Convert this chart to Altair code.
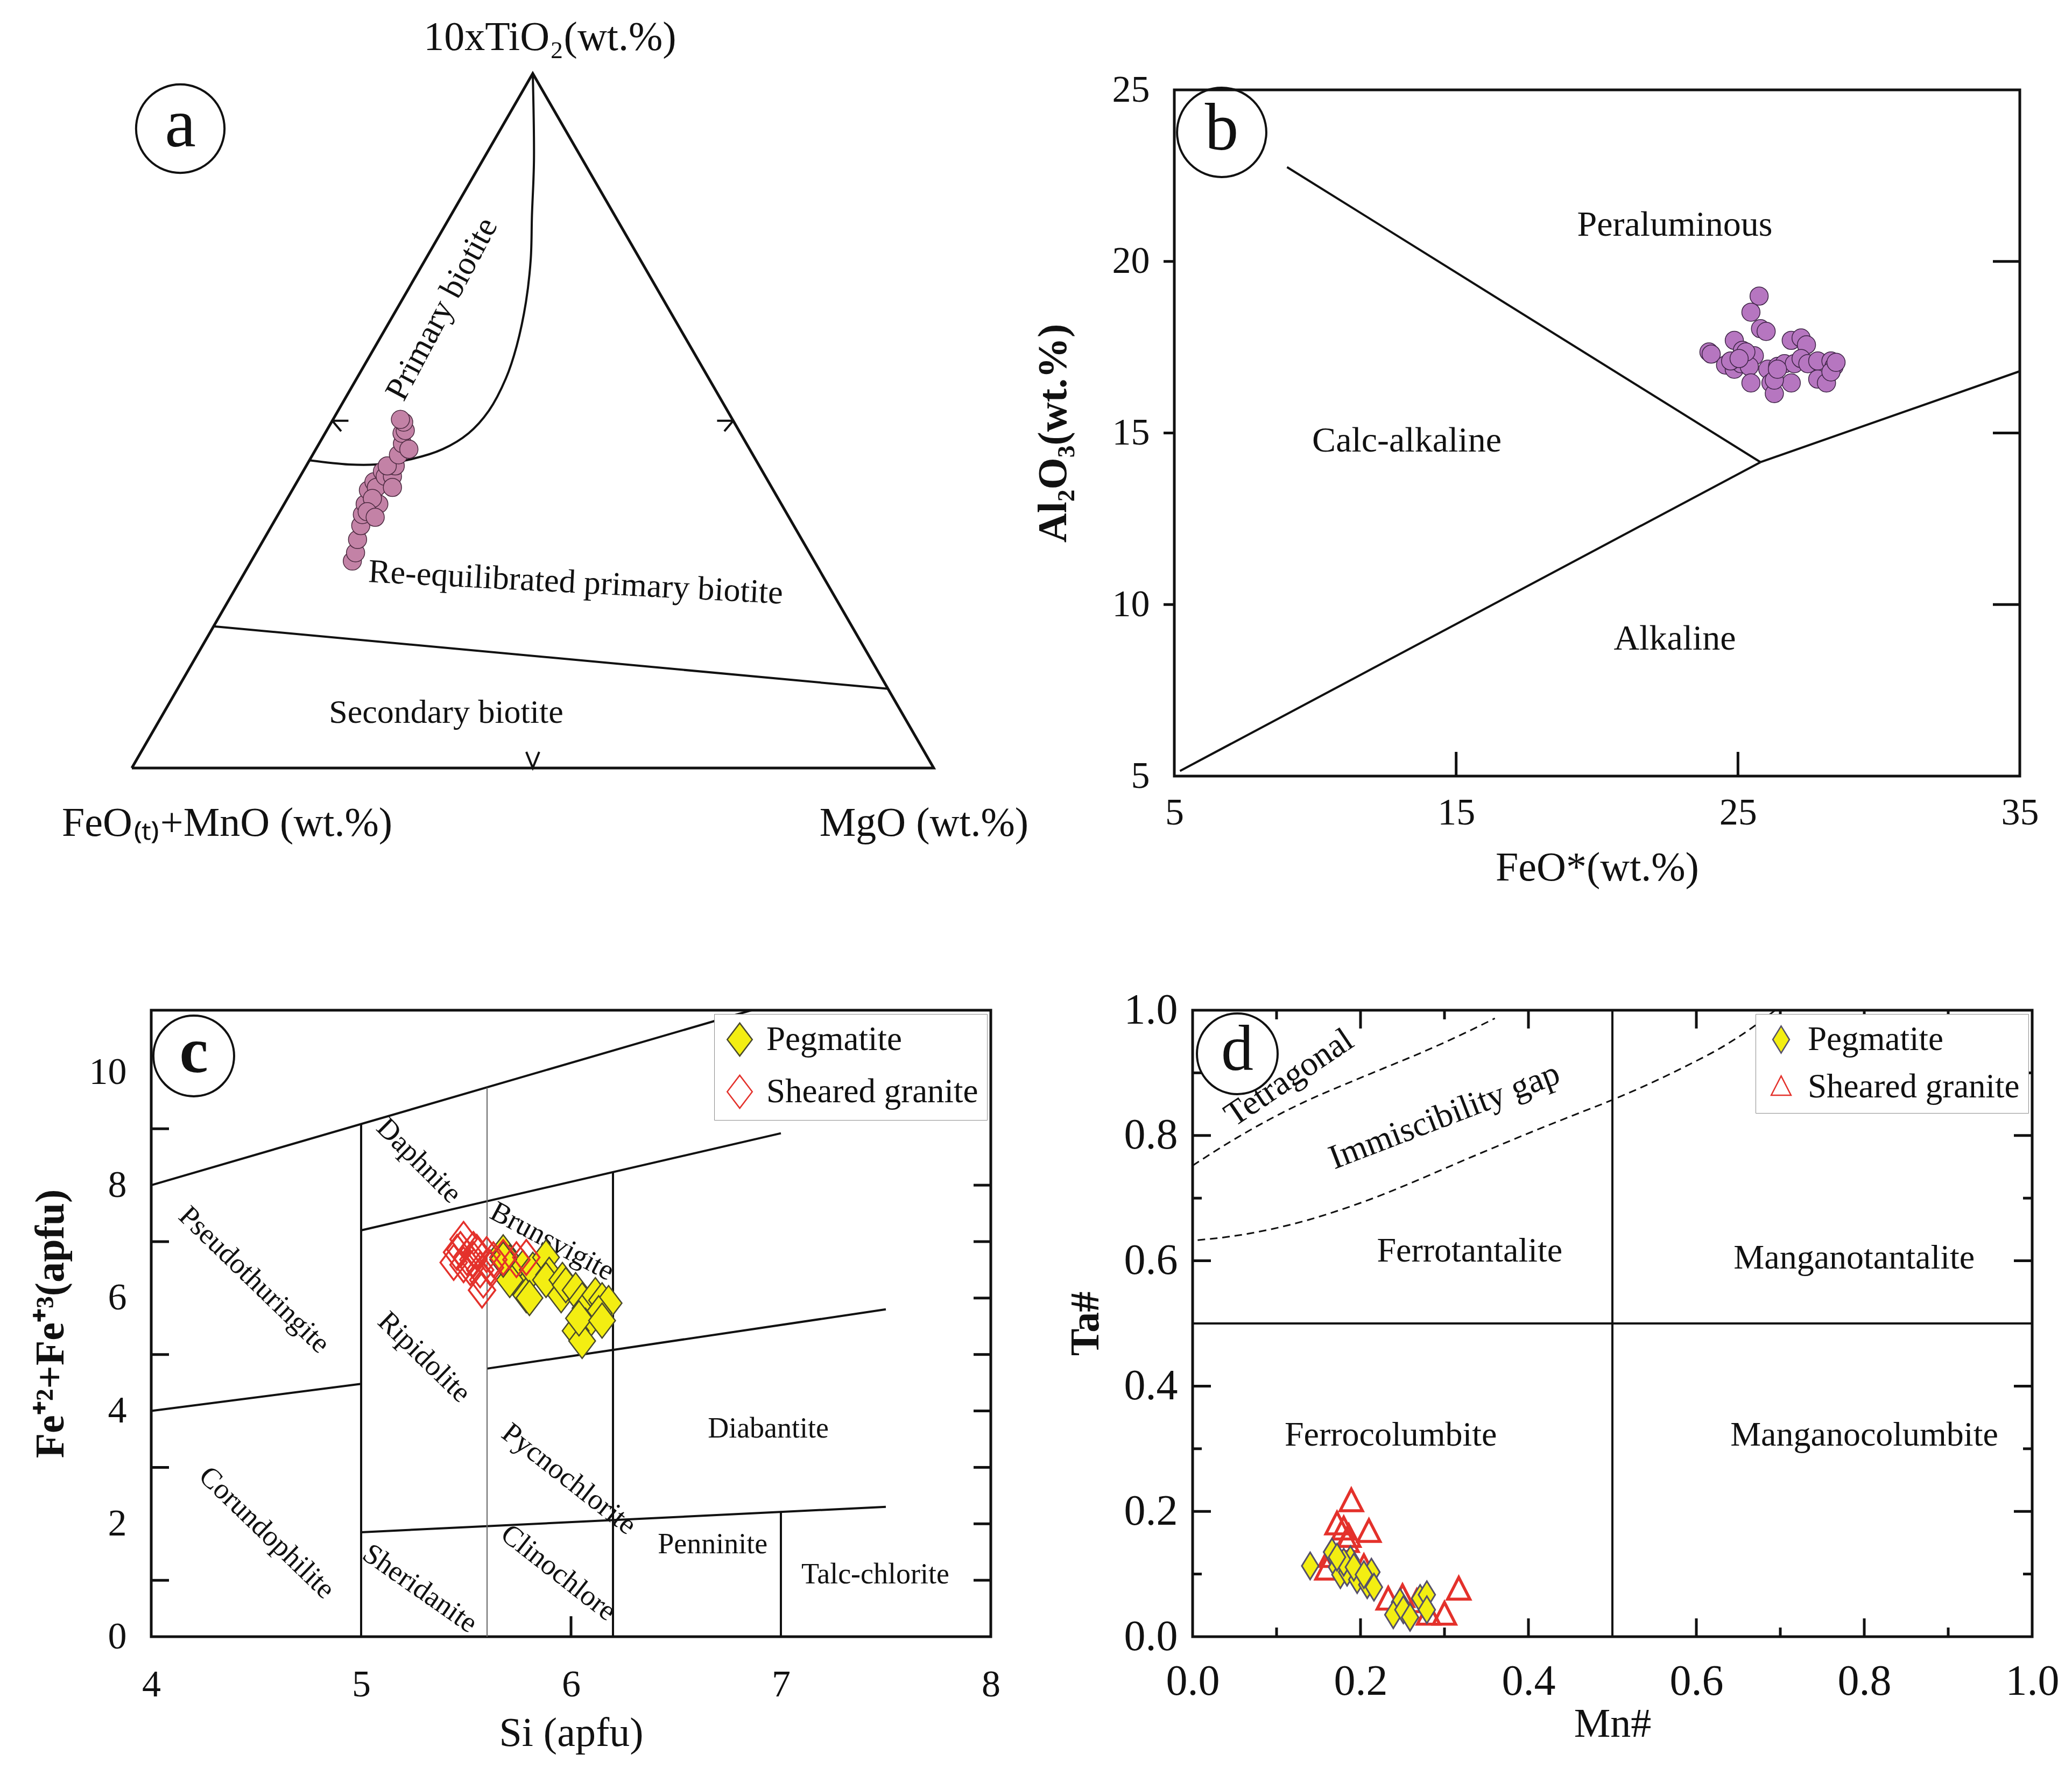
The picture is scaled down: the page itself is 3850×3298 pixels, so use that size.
import altair as alt
import pandas as pd

FONT = "Liberation Serif"
INK = "#111111"
S3 = 0.8660254

# ---------------- (a) ternary 10xTiO2 / FeO(t)+MnO / MgO (wt.% normalised) ----------------
a_tio2 = [29.8, 31.0, 32.9, 34.9, 36.5, 38.0, 40.0, 41.2, 38.0, 40.4, 42.7, 42.0, 42.0,
          43.5, 43.5, 45.1, 46.7, 48.2, 48.6, 49.8, 50.2, 45.9, 40.4, 38.8, 36.9, 36.1]
a_mgo = [12.6, 12.4, 11.7, 11.1, 10.5, 10.1, 9.5, 9.6, 11.8, 10.3, 9.9, 10.6, 11.5,
         11.1, 10.1, 10.7, 10.4, 9.6, 9.8, 9.0, 8.4, 11.6, 12.3, 10.6, 10.9, 12.3]
prim_tio2 = [44.3, 43.7, 43.7, 44.5, 45.9, 48.2, 51.4, 56.1, 60.8, 67.1, 73.3, 79.6, 87.5, 100.0]
prim_mgo = [0.0, 5.2, 8.6, 12.7, 15.8, 17.9, 18.8, 18.6, 17.6, 15.6, 13.1, 10.1, 6.4, 0.0]
sec_tio2 = [20.4, 11.4]
sec_mgo = [0.0, 88.6]
tri_tio2 = [0, 0, 100, 0]
tri_mgo = [0, 100, 0, 0]
a_lab_text = ["Primary biotite", "Re-equilibrated primary biotite", "Secondary biotite"]
a_lab_tio2 = [66.1, 26.7, 8.0]
a_lab_mgo = [5.6, 42.0, 35.2]
a_lab_angle = [298, 3, 0]

# ---------------- (b) FeO* vs Al2O3 ----------------
b_feo = [25.75, 25.46, 25.8, 26.0, 23.97, 24.05, 24.87, 25.16, 25.58, 24.56, 24.87, 25.11, 25.4,
         25.46, 26.06, 26.17, 26.29, 26.41, 26.65, 26.89, 27.24, 27.43, 27.0, 26.89, 27.24, 27.48,
         27.83, 27.83, 28.14, 28.3, 28.41, 28.3, 28.48, 26.29, 26.4, 24.74, 25.28, 25.04]
b_al2o3 = [18.99, 18.52, 18.04, 17.96, 17.36, 17.3, 17.7, 17.41, 17.25, 16.98, 16.86, 17.02, 16.94,
           16.46, 16.86, 16.46, 16.15, 16.94, 17.02, 17.7, 17.77, 17.57, 17.02, 16.46, 17.17, 17.02,
           17.1, 16.57, 16.46, 17.1, 16.94, 16.78, 17.06, 16.54, 16.86, 17.1, 17.36, 17.17]
b_seg_x1 = [9.0, 5.2, 25.8]
b_seg_y1 = [22.75, 5.15, 14.15]
b_seg_x2 = [25.8, 25.8, 35.0]
b_seg_y2 = [14.15, 14.15, 16.8]
b_lab_text = ["Peraluminous", "Calc-alkaline", "Alkaline"]
b_lab_x = [22.76, 13.25, 22.76]
b_lab_y = [21.06, 14.77, 9.0]

# ---------------- (c) Si vs Fe2+ + Fe3+ (chlorite) ----------------
c_peg_si = [5.677, 5.708, 5.771, 5.771, 5.787, 5.818, 5.881, 5.896, 5.881, 5.959, 5.953, 5.975, 6.022,
            6.053, 6.069, 6.116, 6.148, 6.179, 6.132, 6.069, 6.022, 6.053, 6.038, 6.148, 5.708, 5.802, 5.677]
c_peg_fe = [6.81, 6.63, 6.54, 6.14, 6.05, 6.50, 6.72, 6.41, 6.32, 6.32, 6.05, 6.23, 6.14,
            5.96, 5.82, 6.05, 5.96, 5.91, 5.73, 5.51, 5.42, 5.24, 5.64, 5.60, 6.32, 6.00, 6.68]
c_sg_si = [5.488, 5.473, 5.441, 5.504, 5.535, 5.551, 5.520, 5.567, 5.582, 5.576, 5.614, 5.630, 5.677,
           5.740, 5.787, 5.457, 5.535, 5.488, 5.598]
c_sg_fe = [7.04, 6.86, 6.63, 6.72, 6.68, 6.81, 6.54, 6.50, 6.32, 6.14, 6.54, 6.68, 6.72,
           6.68, 6.72, 6.81, 6.86, 6.59, 6.77]
c_seg_x1 = [4.0, 5.0, 4.0, 5.6, 5.0, 5.0, 6.2, 7.0]
c_seg_y1 = [8.0, 7.2, 4.0, 4.75, 1.85, 0.0, 0.0, 0.0]
c_seg_x2 = [6.86, 7.0, 5.0, 7.5, 7.5, 5.0, 6.2, 7.0]
c_seg_y2 = [11.1, 8.92, 4.48, 5.8, 2.3, 9.08, 8.23, 2.21]
c_thin_x = [5.6]
c_thin_top = [9.73]
c_lab_text = ["Daphnite", "Brunsvigite", "Pseudothuringite", "Ripidolite", "Pycnochlorite", "Diabantite",
              "Corundophilite", "Sheridanite", "Clinochlore", "Penninite", "Talc-chlorite"]
c_lab_x = [5.275, 5.91, 4.49, 5.30, 5.99, 6.94, 4.55, 5.28, 5.94, 6.675, 7.45]
c_lab_y = [8.43, 7.0, 6.32, 4.95, 2.79, 3.68, 1.84, 0.85, 1.13, 1.63, 1.10]
c_lab_angle = [45, 28, 44, 44, 38, 0, 44, 35, 38, 0, 0]

# ---------------- (d) Mn# vs Ta# (columbite-tantalite) ----------------
d_peg_mn = [0.140, 0.166, 0.172, 0.176, 0.184, 0.188, 0.196, 0.180, 0.192, 0.208, 0.213, 0.216, 0.247,
            0.239, 0.251, 0.259, 0.271, 0.279, 0.279, 0.204, 0.172]
d_peg_ta = [0.113, 0.135, 0.111, 0.099, 0.103, 0.123, 0.091, 0.119, 0.111, 0.083, 0.103, 0.079, 0.055,
            0.035, 0.043, 0.031, 0.061, 0.067, 0.043, 0.099, 0.127]
d_sg_mn = [0.189, 0.172, 0.180, 0.186, 0.184, 0.210, 0.160, 0.164, 0.204, 0.233, 0.250, 0.281, 0.300,
           0.317, 0.267]
d_sg_ta = [0.216, 0.179, 0.171, 0.159, 0.151, 0.167, 0.107, 0.127, 0.111, 0.059, 0.063, 0.035, 0.035,
           0.075, 0.055]
tet_mn = [0.0, 0.046, 0.092, 0.137, 0.182, 0.227, 0.272, 0.317, 0.360]
tet_ta = [0.752, 0.791, 0.826, 0.856, 0.882, 0.907, 0.932, 0.959, 0.987]
imm_mn = [0.006, 0.046, 0.092, 0.137, 0.182, 0.227, 0.272, 0.317, 0.363, 0.408, 0.453, 0.502, 0.543,
          0.588, 0.633, 0.662, 0.694]
imm_ta = [0.633, 0.639, 0.650, 0.665, 0.684, 0.706, 0.731, 0.757, 0.783, 0.808, 0.832, 0.858, 0.882,
          0.911, 0.943, 0.968, 1.0]
d_seg_x1 = [0.5, 0.0]
d_seg_y1 = [0.0, 0.5]
d_seg_x2 = [0.5, 1.0]
d_seg_y2 = [1.0, 0.5]
d_lab_text = ["Tetragonal", "Immiscibility gap", "Ferrotantalite", "Manganotantalite",
              "Ferrocolumbite", "Manganocolumbite"]
d_lab_x = [0.115, 0.30, 0.33, 0.788, 0.236, 0.80]
d_lab_y = [0.892, 0.831, 0.615, 0.604, 0.321, 0.321]
d_lab_angle = [326, 339, 0, 0, 0, 0]

SERIES = ["Pegmatite", "Sheared granite"]

# ---------------- style ----------------
YEL = "#f3ee12"
YEL_EDGE = "#4a4a2e"
RED = "#e4312b"
DIAM_C = "M0,-1.25L0.95,0L0,1.25L-0.95,0Z"
DIAM_D = "M0,-1.3L0.8,0L0,1.3L-0.8,0Z"
TRI = "M0,-1.05L0.95,0.8L-0.95,0.8Z"

W_A, H_A = 1560, 1275
W_B, H_B = 1571, 1275
W_C, H_C = 1560, 1164
W_D, H_D = 1560, 1164
ROW_GAP = 435
TICK_FS = 70
TITLE_FS = 76


def seg_df(x1, y1, x2, y2):
    return pd.DataFrame({"x": x1, "y": y1, "x2": x2, "y2": y2})


def tick_df(vals, side, length, xdom, ydom, w, h):
    dx = length * (xdom[1] - xdom[0]) / w
    dy = length * (ydom[1] - ydom[0]) / h
    rows = []
    for v in vals:
        if side == "left":
            rows.append((xdom[0], v, xdom[0] + dx, v))
        elif side == "right":
            rows.append((xdom[1], v, xdom[1] - dx, v))
        elif side == "bottom":
            rows.append((v, ydom[0], v, ydom[0] + dy))
        else:
            rows.append((v, ydom[1], v, ydom[1] - dy))
    return pd.DataFrame(rows, columns=["x", "y", "x2", "y2"])


def axis(values, title, lfs, lpad, tpad, bold, fmt=None):
    kw = dict(values=values, title=title, labelFont=FONT, titleFont=FONT, labelFontSize=lfs,
              titleFontSize=TITLE_FS, labelPadding=lpad, titlePadding=tpad, labelColor=INK,
              titleColor=INK, titleFontWeight="bold" if bold else "normal", ticks=False,
              domain=False, grid=False, labelFlush=False)
    if fmt:
        kw["format"] = fmt
    return alt.Axis(**kw)


def panel_letter(letter, px, py, size, weight="normal", fsize=120):
    one = pd.DataFrame({"k": [0]})
    circ = alt.Chart(one).mark_point(shape="circle", size=size, filled=False, stroke=INK,
                                     strokeWidth=4, opacity=1).encode(x=alt.value(px), y=alt.value(py))
    txt = alt.Chart(one).mark_text(text=letter, font=FONT, fontSize=fsize, fontWeight=weight,
                                   color=INK, align="center", baseline="middle", dy=-6).encode(
        x=alt.value(px), y=alt.value(py))
    return [circ, txt]


# ======================= panel a =======================
AXS = alt.Scale(domain=[0.0242, 1.0712], nice=False, zero=False)
AYS = alt.Scale(domain=[-0.0101, 0.8456], nice=False, zero=False)


def tern(ch):
    return ch.transform_calculate(tx="(datum.mg + datum.ti / 2) / 100",
                                  ty="datum.ti / 100 * " + str(S3))


def axy():
    return dict(x=alt.X("tx:Q", scale=AXS, axis=None), y=alt.Y("ty:Q", scale=AYS, axis=None))


tri_df = pd.DataFrame({"ti": tri_tio2, "mg": tri_mgo, "o": list(range(len(tri_tio2)))})
prim_df = pd.DataFrame({"ti": prim_tio2, "mg": prim_mgo, "o": list(range(len(prim_tio2)))})
sec_df = pd.DataFrame({"ti": sec_tio2, "mg": sec_mgo, "o": [0, 1]})
a_df = pd.DataFrame({"ti": a_tio2, "mg": a_mgo})
a_lab_df = pd.DataFrame({"ti": a_lab_tio2, "mg": a_lab_mgo, "text": a_lab_text, "angle": a_lab_angle})

a_layers = [
    tern(alt.Chart(tri_df)).mark_line(color=INK, strokeWidth=5, strokeJoin="miter").encode(**axy(), order="o:Q"),
    tern(alt.Chart(prim_df)).mark_line(color=INK, strokeWidth=4, interpolate="catmull-rom").encode(**axy(), order="o:Q"),
    tern(alt.Chart(sec_df)).mark_line(color=INK, strokeWidth=4).encode(**axy(), order="o:Q"),
    tern(alt.Chart(pd.DataFrame({"ti": [50], "mg": [0]}))).mark_point(
        shape="M0,0L1,0M0,0L0.55,0.65", size=3600, filled=False, stroke=INK, strokeWidth=4, opacity=1).encode(**axy()),
    tern(alt.Chart(pd.DataFrame({"ti": [50], "mg": [50]}))).mark_point(
        shape="M0,0L-1,0M0,0L-0.55,0.65", size=3600, filled=False, stroke=INK, strokeWidth=4, opacity=1).encode(**axy()),
    tern(alt.Chart(pd.DataFrame({"ti": [0], "mg": [50]}))).mark_point(
        shape="M-0.4,-1L0,0L0.4,-1", size=3600, filled=False, stroke=INK, strokeWidth=4, opacity=1).encode(**axy()),
    tern(alt.Chart(a_df)).mark_point(shape="circle", size=1150, filled=True, fill="#c382a6", stroke="#4c2a40",
                                     strokeWidth=1.5, opacity=1).encode(**axy()),
    tern(alt.Chart(a_lab_df)).mark_text(font=FONT, fontSize=62, color=INK, align="center", baseline="middle").encode(
        **axy(), text="text:N", angle=alt.Angle("angle:Q", scale=None)),
    tern(alt.Chart(pd.DataFrame({"ti": [100], "mg": [0]}))).mark_text(
        text="10xTiO₂(wt.%)", font=FONT, fontSize=76, color=INK, align="center", baseline="middle",
        dx=32, dy=-67).encode(**axy()),
    tern(alt.Chart(pd.DataFrame({"ti": [0], "mg": [0]}))).mark_text(
        text="FeO₍ₜ₎+MnO (wt.%)", font=FONT, fontSize=76, color=INK, align="center", baseline="middle",
        dx=177, dy=103).encode(**axy()),
    tern(alt.Chart(pd.DataFrame({"ti": [0], "mg": [100]}))).mark_text(
        text="MgO (wt.%)", font=FONT, fontSize=76, color=INK, align="center", baseline="middle",
        dx=-18, dy=103).encode(**axy()),
] + panel_letter("a", 54, 72, 27000, fsize=130)

panel_a = alt.layer(*a_layers).properties(
    width=W_A, height=H_A, view=alt.ViewBackground(stroke="transparent", strokeWidth=0))

# ======================= panel b =======================
BXD, BYD = [5, 35], [5, 25]
BXS = alt.Scale(domain=BXD, nice=False, zero=False)
BYS = alt.Scale(domain=BYD, nice=False, zero=False)
BXA = axis([5, 15, 25, 35], "FeO*(wt.%)", TICK_FS, 34, 30, False)
BYA = axis([5, 10, 15, 20, 25], "Al₂O₃(wt.%)", TICK_FS, 46, 70, True)


def bxy(xf="x", yf="y"):
    return dict(x=alt.X(xf + ":Q", scale=BXS, axis=BXA), y=alt.Y(yf + ":Q", scale=BYS, axis=BYA))


b_ticks = pd.concat([
    tick_df([10, 15, 20], "left", -20, BXD, BYD, W_B, H_B),
    tick_df([10, 15, 20], "right", 50, BXD, BYD, W_B, H_B),
    tick_df([15, 25], "bottom", 45, BXD, BYD, W_B, H_B),
])
b_layers = [
    alt.Chart(seg_df(b_seg_x1, b_seg_y1, b_seg_x2, b_seg_y2)).mark_rule(color=INK, strokeWidth=4).encode(
        **bxy(), x2="x2:Q", y2="y2:Q"),
    alt.Chart(b_ticks).mark_rule(color=INK, strokeWidth=5).encode(**bxy(), x2="x2:Q", y2="y2:Q"),
    alt.Chart(pd.DataFrame({"x": b_feo, "y": b_al2o3})).mark_point(
        shape="circle", size=1150, filled=True, fill="#b676c0", stroke="#3e2446", strokeWidth=1.5,
        opacity=1).encode(**bxy()),
    alt.Chart(pd.DataFrame({"x": b_lab_x, "y": b_lab_y, "text": b_lab_text})).mark_text(
        font=FONT, fontSize=66, color=INK, align="center", baseline="middle").encode(**bxy(), text="text:N"),
] + panel_letter("b", 88, 79, 27500, fsize=125)

panel_b = alt.layer(*b_layers).properties(
    width=W_B, height=H_B, view=alt.ViewBackground(stroke=INK, strokeWidth=5))

# ======================= panel c =======================
CXD, CYD = [4, 8], [0, 11.1]
CXS = alt.Scale(domain=CXD, nice=False, zero=False)
CYS = alt.Scale(domain=CYD, nice=False, zero=False)
CXA = axis([4, 5, 6, 7, 8], "Si (apfu)", TICK_FS, 55, 18, False)
CYA = axis([0, 2, 4, 6, 8, 10], "Fe⁺²+Fe⁺³(apfu)", TICK_FS, 46, 32, True)


def cxy(xf="x", yf="y"):
    return dict(x=alt.X(xf + ":Q", scale=CXS, axis=CXA), y=alt.Y(yf + ":Q", scale=CYS, axis=CYA))


LEG = dict(title=None, orient="top-right", offset=7, fillColor="white", strokeColor="#8c8c8c",
           padding=16, labelFont=FONT, labelFontSize=63, labelColor=INK, symbolStrokeWidth=2.5,
           rowPadding=24, labelOffset=18, labelLimit=1000)


def series_enc(fill_range, stroke_range, shape_range, sym_size):
    lg = alt.Legend(symbolSize=sym_size, **LEG)
    return dict(
        fill=alt.Fill("series:N", scale=alt.Scale(domain=SERIES, range=fill_range), legend=lg),
        stroke=alt.Stroke("series:N", scale=alt.Scale(domain=SERIES, range=stroke_range), legend=lg),
        shape=alt.Shape("series:N", scale=alt.Scale(domain=SERIES, range=shape_range), legend=lg),
    )


c_pts = pd.concat([
    pd.DataFrame({"x": c_peg_si, "y": c_peg_fe, "series": SERIES[0]}),
    pd.DataFrame({"x": c_sg_si, "y": c_sg_fe, "series": SERIES[1]}),
])
c_ticks = pd.concat([
    tick_df([1, 3, 5, 7, 9], "left", 33, CXD, CYD, W_C, H_C),
    tick_df([1, 2, 3, 4, 5, 6, 7, 8], "right", 32, CXD, CYD, W_C, H_C),
    tick_df([6], "bottom", 38, CXD, CYD, W_C, H_C),
])
c_enc = series_enc([YEL, "transparent"], [YEL_EDGE, RED], [DIAM_C, DIAM_C], 2400)
c_layers = [
    alt.Chart(seg_df(c_seg_x1, c_seg_y1, c_seg_x2, c_seg_y2)).mark_rule(color=INK, strokeWidth=4).encode(
        **cxy(), x2="x2:Q", y2="y2:Q"),
    alt.Chart(pd.DataFrame({"x": c_thin_x, "y": [0.0], "y2": c_thin_top})).mark_rule(
        color="#666666", strokeWidth=2).encode(**cxy(), y2="y2:Q"),
    alt.Chart(c_ticks).mark_rule(color=INK, strokeWidth=5).encode(**cxy(), x2="x2:Q", y2="y2:Q"),
    alt.Chart(pd.DataFrame({"x": c_lab_x, "y": c_lab_y, "text": c_lab_text, "angle": c_lab_angle})).mark_text(
        font=FONT, fontSize=54, color=INK, align="center", baseline="middle").encode(
        **cxy(), text="text:N", angle=alt.Angle("angle:Q", scale=None)),
    alt.Chart(c_pts).transform_filter(alt.datum.series == SERIES[0]).mark_point(
        filled=True, size=2700, strokeWidth=2.5, opacity=1).encode(**cxy(), **c_enc),
    alt.Chart(c_pts).transform_filter(alt.datum.series == SERIES[1]).mark_point(
        filled=True, size=2700, strokeWidth=3.5, opacity=1).encode(**cxy(), **c_enc),
] + panel_letter("c", 79, 85, 22500, weight="bold", fsize=120)

panel_c = alt.layer(*c_layers).properties(
    width=W_C, height=H_C, view=alt.ViewBackground(stroke=INK, strokeWidth=5))

# ======================= panel d =======================
DXD, DYD = [0, 1], [0, 1]
DXS = alt.Scale(domain=DXD, nice=False, zero=False)
DYS = alt.Scale(domain=DYD, nice=False, zero=False)
DVALS = [0.0, 0.2, 0.4, 0.6, 0.8, 1.0]
DXA = axis(DVALS, "Mn#", 80, 44, 2, False, ".1f")
DYA = axis(DVALS, "Ta#", 80, 28, 32, True, ".1f")


def dxy(xf="x", yf="y"):
    return dict(x=alt.X(xf + ":Q", scale=DXS, axis=DXA), y=alt.Y(yf + ":Q", scale=DYS, axis=DYA))


d_major = [0.2, 0.4, 0.6, 0.8]
d_minor = [0.1, 0.3, 0.7, 0.9]
d_ticks = pd.concat(
    [tick_df(d_major, s, 34, DXD, DYD, W_D, H_D) for s in ["left", "right", "top", "bottom"]]
    + [tick_df(d_minor, s, 17, DXD, DYD, W_D, H_D) for s in ["left", "right", "top", "bottom"]])
d_curves = pd.concat([
    pd.DataFrame({"x": tet_mn, "y": tet_ta, "curve": "tetragonal", "o": list(range(len(tet_mn)))}),
    pd.DataFrame({"x": imm_mn, "y": imm_ta, "curve": "immiscibility", "o": list(range(len(imm_mn)))}),
])
d_pts = pd.concat([
    pd.DataFrame({"x": d_sg_mn, "y": d_sg_ta, "series": SERIES[1]}),
    pd.DataFrame({"x": d_peg_mn, "y": d_peg_ta, "series": SERIES[0]}),
])
d_enc = series_enc([YEL, "transparent"], ["#55506a", RED], [DIAM_D, TRI], 1500)
d_layers = [
    alt.Chart(seg_df(d_seg_x1, d_seg_y1, d_seg_x2, d_seg_y2)).mark_rule(color=INK, strokeWidth=4).encode(
        **dxy(), x2="x2:Q", y2="y2:Q"),
    alt.Chart(d_ticks).mark_rule(color=INK, strokeWidth=5).encode(**dxy(), x2="x2:Q", y2="y2:Q"),
    alt.Chart(d_curves).mark_line(color=INK, strokeWidth=3, strokeDash=[14, 9], interpolate="monotone").encode(
        **dxy(), detail="curve:N", order="o:Q"),
    alt.Chart(pd.DataFrame({"x": d_lab_x, "y": d_lab_y, "text": d_lab_text, "angle": d_lab_angle})).mark_text(
        font=FONT, fontSize=64, color=INK, align="center", baseline="middle").encode(
        **dxy(), text="text:N", angle=alt.Angle("angle:Q", scale=None)),
    alt.Chart(d_pts).transform_filter(alt.datum.series == SERIES[1]).mark_point(
        filled=True, size=1900, strokeWidth=5.5, opacity=1).encode(**dxy(), **d_enc),
    alt.Chart(d_pts).transform_filter(alt.datum.series == SERIES[0]).mark_point(
        filled=True, size=1500, strokeWidth=3, opacity=1).encode(**dxy(), **d_enc),
] + panel_letter("d", 83, 81, 22500, fsize=120)

panel_d = alt.layer(*d_layers).properties(
    width=W_D, height=H_D, view=alt.ViewBackground(stroke=INK, strokeWidth=5))

IND = dict(x="independent", y="independent", fill="independent", stroke="independent", shape="independent")

row1 = alt.hconcat(panel_a, panel_b, spacing=341, bounds="flush").resolve_scale(**IND)
row2 = alt.hconcat(panel_c, panel_d, spacing=375, bounds="flush").resolve_scale(**IND)
# nested rows report no height in flush layout, so the gap includes the first row's plot height
chart = alt.vconcat(row1, row2, spacing=H_A + ROW_GAP, bounds="flush").resolve_scale(**IND).configure(
    font=FONT, background="white", padding={"left": 45, "top": 23, "right": 5, "bottom": 5}
).configure_axis(
    labelFont=FONT, titleFont=FONT, labelColor=INK, titleColor=INK, grid=False, ticks=False,
    domain=False, labelFlush=False
).configure_legend(labelFont=FONT)

chart.save("out.html", embed_options={"renderer": "svg", "actions": False})
